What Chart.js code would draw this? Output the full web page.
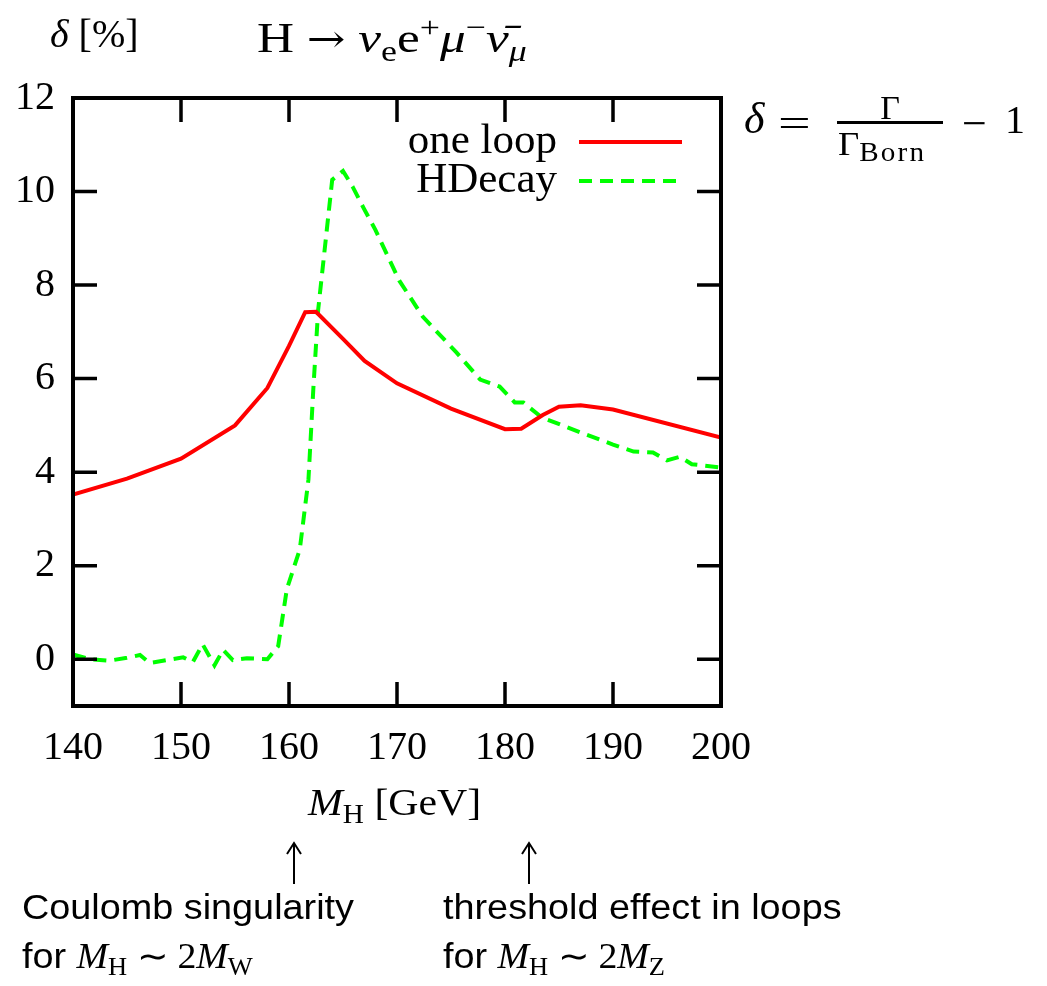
<!DOCTYPE html>
<html>
<head>
<meta charset="utf-8">
<script src="https://cdn.jsdelivr.net/npm/chart.js@4.4.0/dist/chart.umd.min.js"></script>
<style>
    body { margin: 0; background: #fff; }
    #wrap { position: relative; width: 1047px; height: 986px; }
    #chart { position: absolute; left: 0; top: 0; }
    .t { position: absolute; font-family: 'Liberation Serif', serif; line-height: 1; white-space: nowrap; color: #000; transform-origin: left top; }
    .sans { font-family: 'Liberation Sans', Arial, sans-serif; }
    .m { font-family: 'Liberation Serif', serif; }
    .sub { font-size: 0.7em; position: relative; top: 0.3em; }
    .sup { font-size: 0.7em; position: relative; top: -0.5em; }
    .arr { font-family: 'DejaVu Serif', serif; font-size: 0.9em; }
    svg { position: absolute; left: 0; top: 0; }
</style>
</head>
<body>
<div id="wrap">
    <canvas id="chart" width="1047" height="986"></canvas>

    <!-- axis / title texts -->
    <div class="t" style="left:50px; top:14px; font-size:40px;"><i>δ</i> [%]</div>
    <div class="t" style="left:257px; top:17px; font-size:42px; transform:scaleX(1.22);">H <span class="arr">→</span> <i>ν</i><span class="sub">e</span>e<span class="sup">+</span><i>μ</i><span class="sup">−</span><i>ν̄</i><span class="sub"><i>μ</i></span></div>
    <div class="t" style="left:308px; top:783px; font-size:38px; transform:scaleX(1.1);"><i>M</i><span class="sub">H</span> [GeV]</div>

    <!-- delta definition -->
    <div class="t" style="left:744px; top:97px; font-size:44px;"><i>δ</i></div>
    <div class="t" style="left:778px; top:104px; font-size:40px; transform:scaleX(1.45);">=</div>
    <div class="t" style="left:837px; top:91px; width:106px; text-align:center; font-size:34px;">Γ</div>
    <div style="position:absolute; left:837px; top:121px; width:106px; height:3px; background:#000;"></div>
    <div class="t" style="left:838px; top:127px; font-size:34px; transform:scaleX(1.08);">Γ<span style="font-size:27px; letter-spacing:2px; position:relative; top:6px;">Born</span></div>
    <div class="t" style="left:962px; top:102px; font-size:44px;">−</div>
    <div class="t" style="left:1005px; top:100px; font-size:40px;">1</div>

    <!-- arrows and notes -->
    <svg width="1047" height="986">
        <path d="M294 884 L294 843 M287 854 L294 843 L301 854" stroke="#000" stroke-width="2" fill="none"/>
        <path d="M529 884 L529 843 M522 854 L529 843 L536 854" stroke="#000" stroke-width="2" fill="none"/>
    </svg>
    <div class="t sans" style="left:22px; top:889px; font-size:35px; transform:scaleX(1.08);">Coulomb singularity</div>
    <div class="t sans" style="left:22px; top:938px; font-size:35px; transform:scaleX(1.08);">for <span class="m"><i>M</i><span class="sub">H</span> ∼ 2<i>M</i><span class="sub">W</span></span></div>
    <div class="t sans" style="left:443px; top:889px; font-size:35px; transform:scaleX(1.08);">threshold effect in loops</div>
    <div class="t sans" style="left:443px; top:938px; font-size:35px; transform:scaleX(1.08);">for <span class="m"><i>M</i><span class="sub">H</span> ∼ 2<i>M</i><span class="sub">Z</span></span></div>
</div>

<script>
// Data (M_H in GeV, delta in %)
const oneLoopMass = [140, 145, 150, 155, 158, 160, 161.5, 162.5, 165, 167, 170, 175, 180, 181.5, 183.5, 185, 187, 190, 200];
const oneLoopDelta = [3.52, 3.86, 4.29, 5.0, 5.8, 6.7, 7.42, 7.43, 6.85, 6.38, 5.9, 5.36, 4.92, 4.93, 5.22, 5.4, 5.43, 5.34, 4.74];

const hdecayMass = [140, 141.6, 143.4, 145, 146.2, 147.1, 150.2, 151.1, 152.0, 153.1, 153.9, 154.8, 156.1, 158, 159, 159.8, 161, 161.8, 162.25, 162.7, 164, 165, 165.9, 166.9, 168, 170.2, 172.4, 175.5, 177.7, 179.5, 180.9, 181.7, 183.4, 185.1, 187, 190, 191.9, 193.7, 195, 196.2, 197.3, 200];
const hdecayDelta = [0.1, 0.0, -0.03, 0.03, 0.09, -0.08, 0.04, -0.06, 0.32, -0.13, 0.2, -0.02, 0.02, 0.0, 0.28, 1.5, 2.35, 3.84, 5.77, 7.47, 10.25, 10.44, 10.1, 9.65, 9.18, 8.1, 7.32, 6.56, 5.98, 5.83, 5.49, 5.49, 5.17, 5.02, 4.85, 4.59, 4.44, 4.42, 4.25, 4.33, 4.17, 4.1];

const massTicks = [140, 150, 160, 170, 180, 190, 200];
const deltaTicks = [0, 2, 4, 6, 8, 10, 12];

const seriesLabels = ['one loop', 'HDecay'];

// gnuplot style frame with inward ticks on all four sides
const frameTicks = {
    id: 'frameTicks',
    afterDraw(chart) {
        const { ctx, chartArea: a, scales: { x, y } } = chart;
        const len = 24;
        ctx.save();
        ctx.strokeStyle = '#000';
        ctx.lineWidth = 3.5;
        ctx.beginPath();
        x.ticks.forEach(t => {
            const px = x.getPixelForValue(t.value);
            ctx.moveTo(px, a.bottom); ctx.lineTo(px, a.bottom - len);
            ctx.moveTo(px, a.top); ctx.lineTo(px, a.top + len);
        });
        y.ticks.forEach(t => {
            const py = y.getPixelForValue(t.value);
            ctx.moveTo(a.left, py); ctx.lineTo(a.left + len, py);
            ctx.moveTo(a.right, py); ctx.lineTo(a.right - len, py);
        });
        ctx.stroke();
        ctx.lineWidth = 4;
        ctx.strokeRect(a.left, a.top, a.right - a.left, a.bottom - a.top);
        ctx.restore();
    }
};

// key in the top right corner: text right aligned, sample line after it
const keyBox = {
    id: 'keyBox',
    afterDraw(chart) {
        const ctx = chart.ctx;
        const textRight = 557, x0 = 579, x1 = 682;
        const rows = [142, 181];
        ctx.save();
        ctx.font = '43px "Liberation Serif"';
        ctx.fillStyle = '#000';
        ctx.textAlign = 'right';
        ctx.textBaseline = 'alphabetic';
        chart.data.datasets.forEach((ds, i) => {
            const yy = rows[i];
            ctx.fillText(ds.label, textRight, yy + 11);
            ctx.strokeStyle = ds.borderColor;
            ctx.lineWidth = ds.borderWidth;
            ctx.setLineDash(ds.borderDash || []);
            ctx.beginPath();
            ctx.moveTo(x0, yy);
            ctx.lineTo(x1, yy);
            ctx.stroke();
        });
        ctx.restore();
    }
};

function toPoints(xs, ys) {
    return xs.map((v, i) => ({ x: v, y: ys[i] }));
}

const tickFont = { family: 'Liberation Serif', size: 40 };

new Chart(document.getElementById('chart'), {
    type: 'line',
    data: {
        datasets: [{
            label: seriesLabels[0],
            data: toPoints(oneLoopMass, oneLoopDelta),
            borderColor: '#ff0000',
            borderWidth: 4,
            pointRadius: 0,
            tension: 0,
            fill: false
        }, {
            label: seriesLabels[1],
            data: toPoints(hdecayMass, hdecayDelta),
            borderColor: '#00ff00',
            borderWidth: 4,
            borderDash: [13, 8],
            pointRadius: 0,
            tension: 0,
            fill: false
        }]
    },
    options: {
        responsive: false,
        animation: false,
        layout: { padding: { left: 0, top: 98, right: 326, bottom: 220 } },
        plugins: {
            legend: { display: false },
            tooltip: { enabled: false }
        },
        scales: {
            x: {
                type: 'linear',
                min: 140,
                max: 200,
                grid: { display: false },
                border: { display: false },
                afterBuildTicks: s => { s.ticks = massTicks.map(v => ({ value: v })); },
                afterFit: s => { s.height = 60; },
                ticks: { font: tickFont, color: '#000', padding: 10, maxRotation: 0, autoSkip: false }
            },
            y: {
                min: -1,
                max: 12,
                grid: { display: false },
                border: { display: false },
                afterBuildTicks: s => { s.ticks = deltaTicks.map(v => ({ value: v })); },
                afterFit: s => { s.width = 73; },
                ticks: { font: tickFont, color: '#000', padding: 10 }
            }
        }
    },
    plugins: [frameTicks, keyBox]
});
</script>
</body>
</html>
